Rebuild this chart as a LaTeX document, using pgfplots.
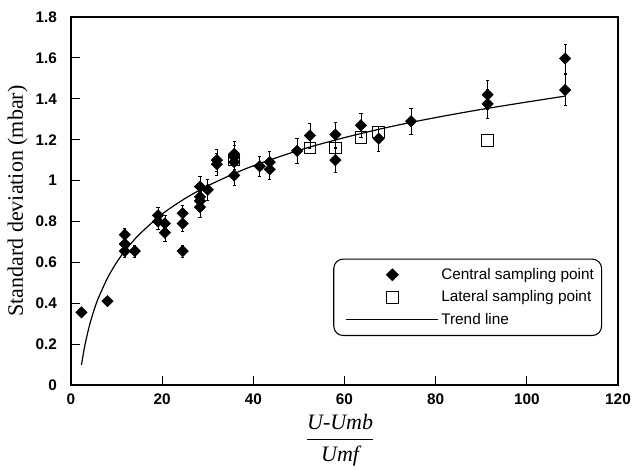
\documentclass[border=0pt]{standalone}
\usepackage{fontspec}
\setmainfont{Liberation Sans}
\newfontfamily\timesfont{Liberation Serif}
\usepackage{pgfplots}
\usepackage{pgfplotstable}
\pgfplotsset{compat=1.18}

\pgfplotstableread{
x y err
2.3 0.355 0
8.0 0.41 0
11.8 0.735 0.03
11.8 0.69 0.03
11.8 0.655 0.03
14.0 0.655 0.03
19.1 0.83 0.04
19.1 0.80 0.04
20.6 0.79 0.04
20.6 0.745 0.04
24.5 0.84 0.04
24.5 0.79 0.04
24.5 0.655 0.03
28.3 0.97 0.05
28.3 0.92 0.05
28.3 0.90 0.05
28.3 0.87 0.05
30.0 0.955 0.05
32.0 1.10 0.055
32.0 1.08 0.055
35.8 1.13 0.06
35.8 1.115 0.06
35.8 1.09 0.06
35.8 1.025 0.05
41.4 1.07 0.05
43.6 1.09 0.055
43.6 1.055 0.05
49.6 1.145 0.06
52.4 1.22 0.06
58.0 1.225 0.06
58.0 1.10 0.06
63.6 1.27 0.06
67.5 1.205 0.06
74.6 1.29 0.065
91.4 1.42 0.07
91.4 1.375 0.07
108.4 1.597 0.07
108.4 1.443 0.075
}\central

\pgfplotstableread{
x y
35.8 1.10
52.4 1.16
58.0 1.16
63.6 1.21
67.5 1.238
91.4 1.196
}\lateral

\pgfplotstableread{
x y
2.3 0.098
3 0.189
4 0.287
5 0.363
6 0.425
8 0.523
10 0.599
12 0.661
15 0.737
20 0.836
25 0.912
30 0.974
35 1.026
40 1.072
50 1.148
60 1.210
70 1.263
80 1.308
90 1.348
100 1.384
108.4 1.413
}\trend

\begin{document}
\begin{tikzpicture}
\useasboundingbox (-53.25pt,-63.75pt) rectangle (420.75pt,288.75pt);
\begin{axis}[
  scale only axis, width=410.25pt, height=276pt,
  at={(0,0)}, anchor=south west,
  xmin=0, xmax=120, ymin=0, ymax=1.8,
  xtick={0,20,40,60,80,100,120},
  ytick={0,0.2,0.4,0.6,0.8,1,1.2,1.4,1.6,1.8},
  axis line style={line width=0.9pt},
  xtick pos=left, ytick pos=left, tick align=inside,
  major tick length=6.5pt,
  every tick/.append style={draw=black, line width=0.9pt},
  /pgf/number format/assume math mode=true,
  xticklabel={\textbf{\pgfmathprintnumber{\tick}}},
  yticklabel={\textbf{\pgfmathprintnumber{\tick}}},
  tick label style={font=\fontsize{11.5}{13}\selectfont},
  yticklabel style={xshift=-7pt},
  xticklabel style={yshift=-3pt},
  ylabel={\timesfont Standard deviation (mbar)},
  ylabel style={at={(axis description cs:-0.0975,0.5)}, anchor=center, font=\fontsize{16.5}{19}\selectfont},
  xlabel={$\displaystyle\frac{\mbox{\timesfont\itshape U-Umb}}{\mbox{\timesfont\itshape Umf}}$},
  xlabel style={at={(axis description cs:0.492,-0.1495)}, anchor=center, font=\fontsize{16.5}{19}\selectfont},
  legend style={at={(axis description cs:0.971,0.133)}, anchor=south east,
    draw=black, line width=0.8pt, rounded corners=7pt,
    font=\fontsize{11.5}{13}\selectfont, inner xsep=4pt, inner ysep=5pt,
    nodes={inner sep=1.8pt}, row sep=3.5pt},
  legend cell align=left,
  legend image code/.code={\path (-9pt,0pt); \draw[sharp corners,mark repeat=2,mark phase=2,line width=0.8pt,#1] plot coordinates {(-4pt,0pt) (30.5pt,0pt) (65pt,0pt)};},
]
\addplot[only marks, mark=square*, mark size=3pt, mark options={rotate=45, fill=black, draw=black},
  error bars/.cd, y dir=both, y explicit,
  error bar style={line width=0.4pt, black},
  error mark options={rotate=90, mark size=1.2pt, line width=0.4pt}]
  table[x=x, y=y, y error=err] {\central};
\addlegendentry{Central sampling point}
\addplot[only marks, mark=square, mark size=4.3pt, mark options={draw=black, line width=0.8pt, fill=none}]
  table[x=x, y=y] {\lateral};
\addlegendentry{Lateral sampling point}
\addplot[black, line width=0.9pt, no marks, smooth] table[x=x, y=y] {\trend};
\addlegendentry{Trend line}
\end{axis}
\end{tikzpicture}
\end{document}
